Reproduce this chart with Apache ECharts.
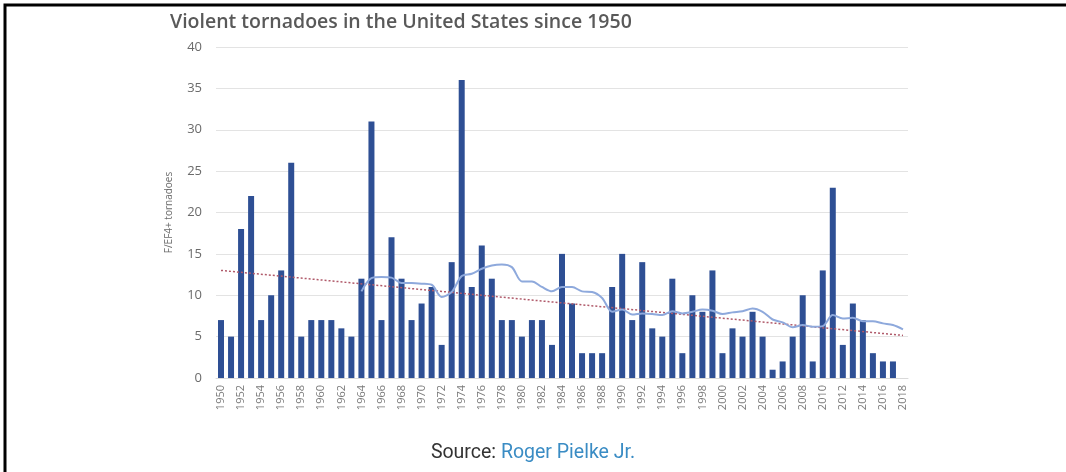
<!DOCTYPE html>
<html>
<head>
<meta charset="utf-8">
<script src="https://cdn.jsdelivr.net/npm/echarts@6/dist/echarts.min.js"></script>
<style>
html,body{margin:0;padding:0;background:#fff;}
#chart{width:1066px;height:472px;}
</style>
</head>
<body>
<div id="chart"></div>
<script>
var years = [];
for (var y = 1950; y <= 2018; y++) years.push(String(y));

// F/EF4+ tornadoes per year
var tornadoes = [7,5,18,22,7,10,13,26,5,7,7,7,6,5,12,31,7,17,12,7,9,11,4,14,36,11,16,12,7,7,5,7,7,4,15,9,3,3,3,11,15,7,14,6,5,12,3,10,8,13,3,6,5,8,5,1,2,5,10,2,13,23,4,9,7,3,2,2,0];

// light-blue moving-average curve, starts 1964
var movingAvg = [null,null,null,null,null,null,null,null,null,null,null,null,null,null,
  10.47,12.07,12.2,12.13,11.47,11.47,11.4,11.27,9.8,10.4,12.33,12.6,13.2,13.6,13.73,13.4,
  11.67,11.67,11.0,10.47,11.0,11.0,10.47,10.4,9.67,8.0,8.27,7.67,7.8,7.73,7.6,8.07,7.8,8.0,
  8.27,8.13,7.73,7.93,8.07,8.4,8.0,7.07,6.73,6.13,6.4,6.2,6.27,7.6,7.2,7.27,6.87,6.87,6.6,6.4,5.87];

// dotted linear trend end points
var trendYears = ['1950','2018'];
var trendValues = [13.0, 5.15];

var yTicks = [0,5,10,15,20,25,30,35,40];

var chart = echarts.init(document.getElementById('chart'));
chart.setOption({
  animation: false,
  backgroundColor: '#ffffff',
  title: {
    text: 'Violent tornadoes in the United States since 1950',
    left: 165, top: 7,
    textStyle: {fontFamily: 'Open Sans', fontSize: 19.5, fontWeight: 600, color: '#595959'}
  },
  grid: {left: 216, right: 158, top: 47, bottom: 94},
  xAxis: {
    type: 'category',
    data: years,
    boundaryGap: true,
    axisLine: {show: true, lineStyle: {color: '#d9d9d9'}},
    axisTick: {show: false},
    axisLabel: {interval: 1, rotate: 90, color: '#7a7a7a', fontSize: 11, fontFamily: 'Open Sans', margin: 7}
  },
  yAxis: {
    type: 'value',
    min: yTicks[0], max: yTicks[yTicks.length-1], interval: 5,
    name: 'F/EF4+ tornadoes',
    nameLocation: 'middle',
    nameGap: 42,
    nameTextStyle: {color: '#6b6b6b', fontSize: 10, fontFamily: 'Open Sans'},
    axisLine: {show: false},
    axisTick: {show: false},
    axisLabel: {color: '#6b6b6b', fontSize: 13, fontFamily: 'Open Sans', margin: 14},
    splitLine: {lineStyle: {color: '#e3e3e3', width: 1}}
  },
  series: [
    {
      type: 'bar',
      data: tornadoes,
      barWidth: 6,
      itemStyle: {color: '#2e4f94'}
    },
    {
      type: 'line',
      data: trendYears.map(function(c, i){ return [c, trendValues[i]]; }),
      symbol: 'none',
      lineStyle: {color: '#b05a6a', width: 1.5, type: [2, 2]},
      z: 3
    },
    {
      type: 'line',
      data: movingAvg,
      symbol: 'none',
      smooth: 0.3,
      lineStyle: {color: '#8ea9dc', width: 2},
      z: 4
    }
  ],
  graphic: [
    {
      type: 'polyline',
      shape: {points: [[5, 472], [5, 5], [1066, 5]]},
      style: {stroke: '#000', lineWidth: 3, fill: null}
    },
    {
      type: 'text',
      left: 'center',
      top: 443,
      style: {
        text: '{a|Source: }{b|Roger Pielke Jr.}',
        rich: {
          a: {fontFamily: 'Roboto', fontSize: 19.5, fill: '#333333'},
          b: {fontFamily: 'Roboto', fontSize: 19.5, fill: '#3a8cc4'}
        }
      }
    }
  ]
});
</script>
</body>
</html>
